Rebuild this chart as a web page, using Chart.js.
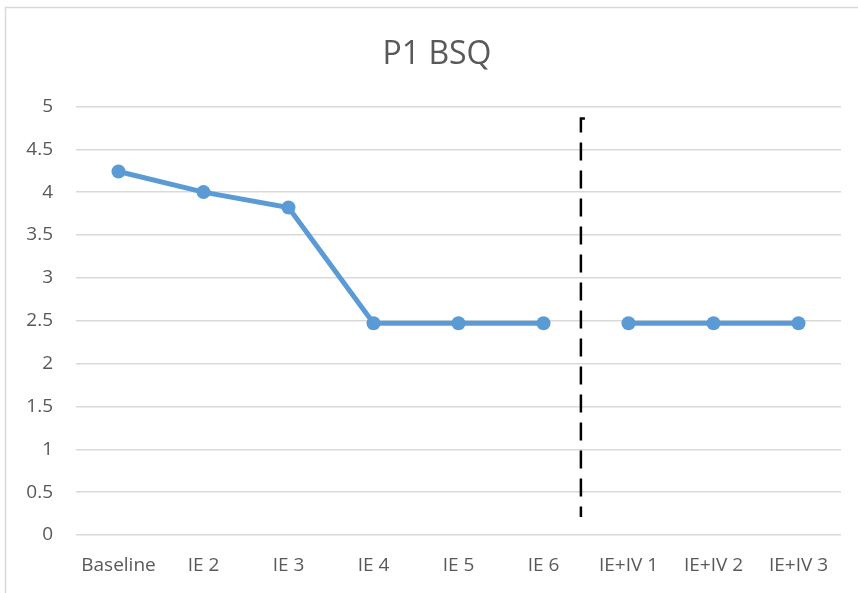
<!DOCTYPE html>
<html>
<head>
<meta charset="utf-8">
<script src="https://cdn.jsdelivr.net/npm/chart.js@4/dist/chart.umd.min.js"></script>
<style>
  html, body { margin: 0; padding: 0; background: #ffffff; }
  #wrap { width: 858px; height: 593px; position: relative; }
</style>
</head>
<body>
<div id="wrap"><canvas id="chart" width="858" height="593"></canvas></div>
<script>
// Session labels along the x axis
const sessions = ['Baseline', 'IE 2', 'IE 3', 'IE 4', 'IE 5', 'IE 6', 'IE+IV 1', 'IE+IV 2', 'IE+IV 3'];
// BSQ scores for the IE phase and the IE+IV phase
const ieScores = [4.24, 4.0, 3.82, 2.47, 2.47, 2.47];
const ieIvScores = [2.47, 2.47, 2.47];
// Y axis range and step
const yMin = 0;
const yMax = 5;
const yStep = 0.5;
// Phase-change marker: position between IE 6 and IE+IV 1, and its vertical extent
const phaseBreak = 5.44;
const phaseLineTop = 4.86;
const phaseLineBottom = 0.21;

const blue = '#5b9bd5';
const textGrey = '#595959';
const gridGrey = '#d9d9d9';
const fontFamily = '"Open Sans", "Noto Sans", sans-serif';

// One dataset per phase so the line breaks at the phase change
const ieData = sessions.map((_, i) => (i < ieScores.length ? ieScores[i] : null));
const ieIvData = sessions.map((_, i) => (i >= ieScores.length ? ieIvScores[i - ieScores.length] : null));

const lineStyle = {
  borderColor: blue,
  backgroundColor: blue,
  borderWidth: 5,
  pointRadius: 7,
  pointHoverRadius: 7,
  pointBackgroundColor: blue,
  pointBorderColor: blue,
  pointBorderWidth: 0,
  tension: 0,
  spanGaps: false,
  fill: false
};

// Light frame along the top and left edges
const framePlugin = {
  id: 'frame',
  beforeDraw(chart) {
    const ctx = chart.ctx;
    ctx.save();
    ctx.strokeStyle = gridGrey;
    ctx.lineWidth = 1.5;
    ctx.beginPath();
    ctx.moveTo(5.5, chart.height);
    ctx.lineTo(5.5, 7.5);
    ctx.lineTo(chart.width, 7.5);
    ctx.stroke();
    ctx.restore();
  }
};

// Centre the title a little to the right, over the frame's inner area
const titleInsetPlugin = {
  id: 'titleInset',
  afterLayout(chart) {
    if (chart.titleBlock) {
      chart.titleBlock.left = 33;
    }
  }
};

// Dashed vertical phase-change line
const phaseLinePlugin = {
  id: 'phaseLine',
  afterDatasetsDraw(chart) {
    const xs = chart.scales.x;
    const ys = chart.scales.y;
    const i0 = Math.floor(phaseBreak);
    const frac = phaseBreak - i0;
    const p0 = xs.getPixelForValue(i0);
    const p1 = xs.getPixelForValue(i0 + 1);
    const x = p0 + (p1 - p0) * frac;
    const top = ys.getPixelForValue(phaseLineTop);
    const bottom = ys.getPixelForValue(phaseLineBottom);
    const ctx = chart.ctx;
    ctx.save();
    ctx.strokeStyle = '#000000';
    ctx.lineWidth = 2.5;
    ctx.setLineDash([18, 10]);
    ctx.beginPath();
    ctx.moveTo(x + 4, top);
    ctx.lineTo(x, top);
    ctx.lineTo(x, bottom);
    ctx.stroke();
    ctx.restore();
  }
};

new Chart(document.getElementById('chart'), {
  type: 'line',
  data: {
    labels: sessions,
    datasets: [
      Object.assign({ label: 'IE', data: ieData }, lineStyle),
      Object.assign({ label: 'IE+IV', data: ieIvData }, lineStyle)
    ]
  },
  options: {
    responsive: false,
    animation: false,
    devicePixelRatio: 1,
    layout: { padding: { left: 0, right: 17, top: 0, bottom: 0 } },
    plugins: {
      legend: { display: false },
      tooltip: { enabled: false },
      title: {
        display: true,
        text: 'P1 BSQ',
        color: textGrey,
        font: { family: fontFamily, size: 32, weight: 'normal' },
        padding: { top: 36, bottom: 32 }
      }
    },
    scales: {
      x: {
        offset: true,
        grid: { display: false, drawTicks: false },
        border: { display: false },
        ticks: {
          color: textGrey,
          font: { family: fontFamily, size: 19 },
          padding: 19,
          maxRotation: 0,
          autoSkip: false
        },
        afterFit(scale) { scale.height = 58; }
      },
      y: {
        min: yMin,
        max: yMax,
        grid: { color: gridGrey, lineWidth: 1.5, drawTicks: false },
        border: { display: false },
        ticks: {
          stepSize: yStep,
          color: textGrey,
          font: { family: fontFamily, size: 19 },
          padding: 23,
          callback: (v) => String(v)
        },
        afterFit(scale) { scale.width = 76; }
      }
    }
  },
  plugins: [framePlugin, titleInsetPlugin, phaseLinePlugin]
});
</script>
</body>
</html>
